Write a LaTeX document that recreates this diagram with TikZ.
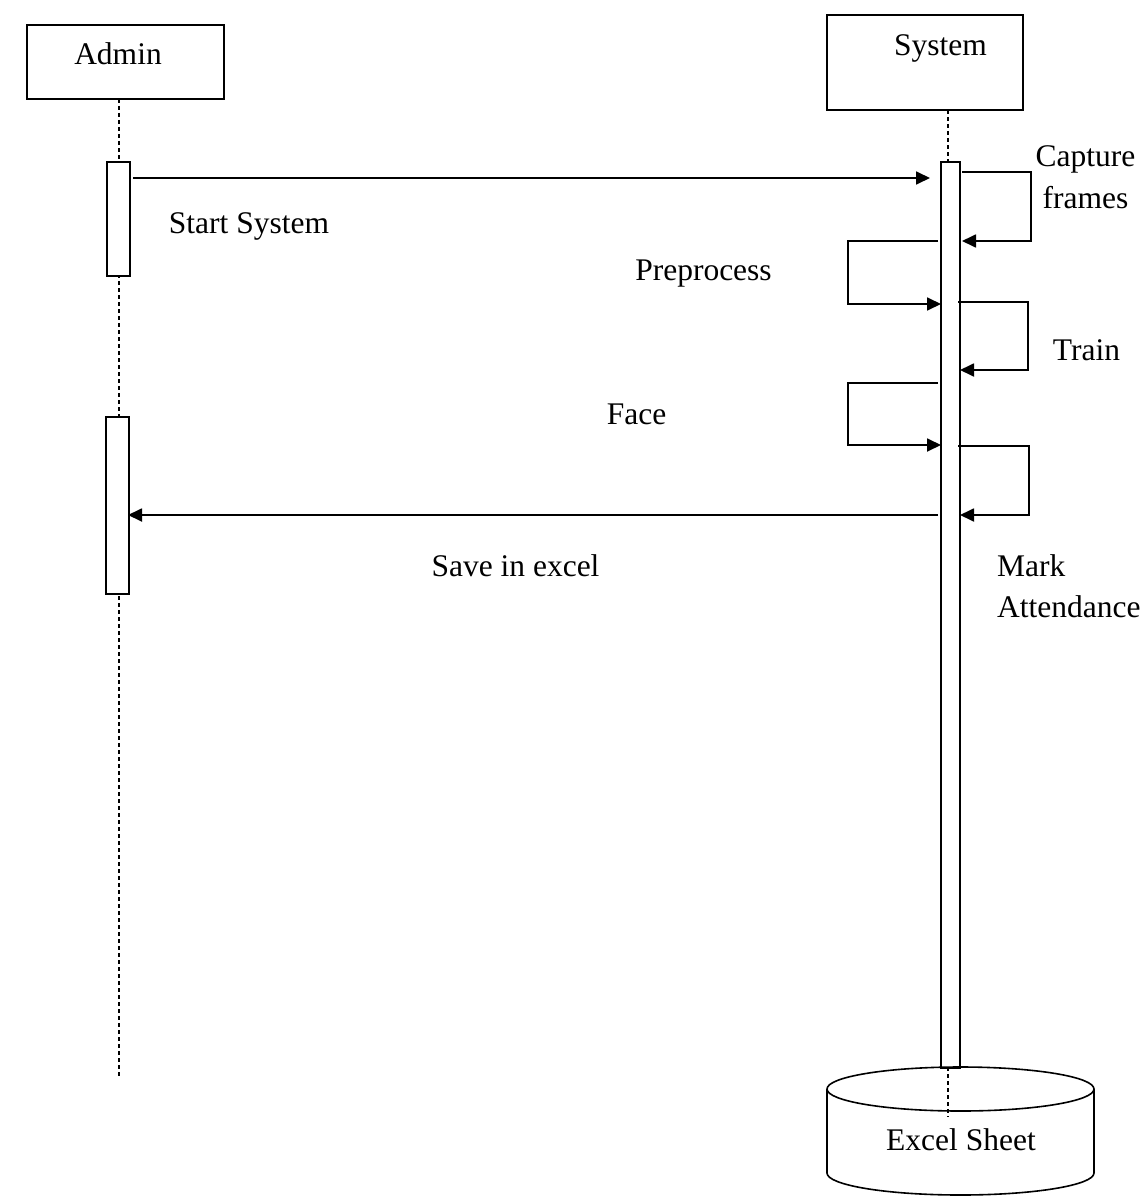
\documentclass[tikz,border=0pt]{standalone}
\usepackage{fontspec}
\setmainfont{Liberation Serif}
\usetikzlibrary{arrows.meta}
\begin{document}
\begin{tikzpicture}[x=1pt,y=-1pt,
  objbox/.style={draw, line width=1.6pt, inner sep=0pt, fill=white},
  actbox/.style={draw, fill=white, line width=1.8pt, inner sep=0pt, anchor=north west},
  life/.style={line width=1.5pt, dash pattern=on 4pt off 3pt},
  msg/.style={line width=1.8pt, -{Triangle[length=14pt,width=13pt]}},
  lbl/.style={font=\fontsize{31.5}{36}\selectfont, inner sep=0pt, anchor=base},
  lbll/.style={lbl, anchor=base west}]
\useasboundingbox (0,0) rectangle (1145,1196);
% objects
\node[objbox, minimum width=197pt, minimum height=74pt] (admin) at (125.5,62) {};
\node[lbl] (adminlbl) at (118,65) {Admin};
\node[objbox, minimum width=196pt, minimum height=95pt] (system) at (925,62.5) {};
\node[lbl] (systemlbl) at (940.5,56) {System};
% lifelines
\coordinate (al1) at (119,99);
\coordinate (al2) at (119,1078);
\draw[life] (al1) -- (al2);
\coordinate (sl1) at (948,110);
\coordinate (sl2) at (948,161);
\draw[life] (sl1) -- (sl2);
% activations
\node[actbox, minimum width=23pt, minimum height=114pt] (a1) at (106,161) {};
\node[actbox, minimum width=23pt, minimum height=177pt] (a2) at (105,416) {};
\node[actbox, minimum width=19pt, minimum height=906pt] (sa) at (940,161) {};
% database cylinder
\draw[line width=1.6pt, fill=white] (827,1089) -- (827,1173)
  arc[start angle=180, end angle=360, x radius=133.5pt, y radius=22pt] -- (1094,1089);
\draw[line width=1.6pt] (960.5,1089) ellipse [x radius=133.5pt, y radius=22pt];
\coordinate (sl3) at (948,1067);
\coordinate (sl4) at (948,1117);
\draw[life] (sl3) -- (sl4);
\node[lbl] (excel) at (961,1150) {Excel Sheet};
% messages
\coordinate (m1a) at (133,178);
\coordinate (m1b) at (930,178);
\draw[msg] (m1a) -- (m1b);
\node[lbl] (startlbl) at (249,233) {Start System};
% capture frames
\coordinate (c1) at (962,172);
\coordinate (c2) at (1031,172);
\coordinate (c3) at (1031,241);
\coordinate (c4) at (962,241);
\draw[msg] (c1) -- (c2) -- (c3) -- (c4);
\node[lbl] (caplbl1) at (1085.5,166.5) {Capture};
\node[lbl] (caplbl2) at (1085.5,208) {frames};
% preprocess
\coordinate (p1) at (938,241);
\coordinate (p2) at (848,241);
\coordinate (p3) at (848,304);
\coordinate (p4) at (941,304);
\draw[msg] (p1) -- (p2) -- (p3) -- (p4);
\node[lbl] (prelbl) at (703.5,280) {Preprocess};
% train
\coordinate (t1) at (958,302);
\coordinate (t2) at (1028,302);
\coordinate (t3) at (1028,370);
\coordinate (t4) at (960,370);
\draw[msg] (t1) -- (t2) -- (t3) -- (t4);
\node[lbl] (trainlbl) at (1086.5,360) {Train};
% face
\coordinate (f1) at (938,383);
\coordinate (f2) at (848,383);
\coordinate (f3) at (848,445);
\coordinate (f4) at (941,445);
\draw[msg] (f1) -- (f2) -- (f3) -- (f4);
\node[lbl] (facelbl) at (636.5,424) {Face};
% mark attendance
\coordinate (k1) at (958,446);
\coordinate (k2) at (1029,446);
\coordinate (k3) at (1029,515);
\coordinate (k4) at (960,515);
\draw[msg] (k1) -- (k2) -- (k3) -- (k4);
\node[lbll] (marklbl1) at (997,576) {Mark};
\node[lbll] (marklbl2) at (997,617) {Attendance};
% save in excel
\coordinate (e1) at (938,515);
\coordinate (e2) at (128,515);
\draw[msg] (e1) -- (e2);
\node[lbl] (savelbl) at (515.5,576) {Save in excel};
\end{tikzpicture}
\end{document}
